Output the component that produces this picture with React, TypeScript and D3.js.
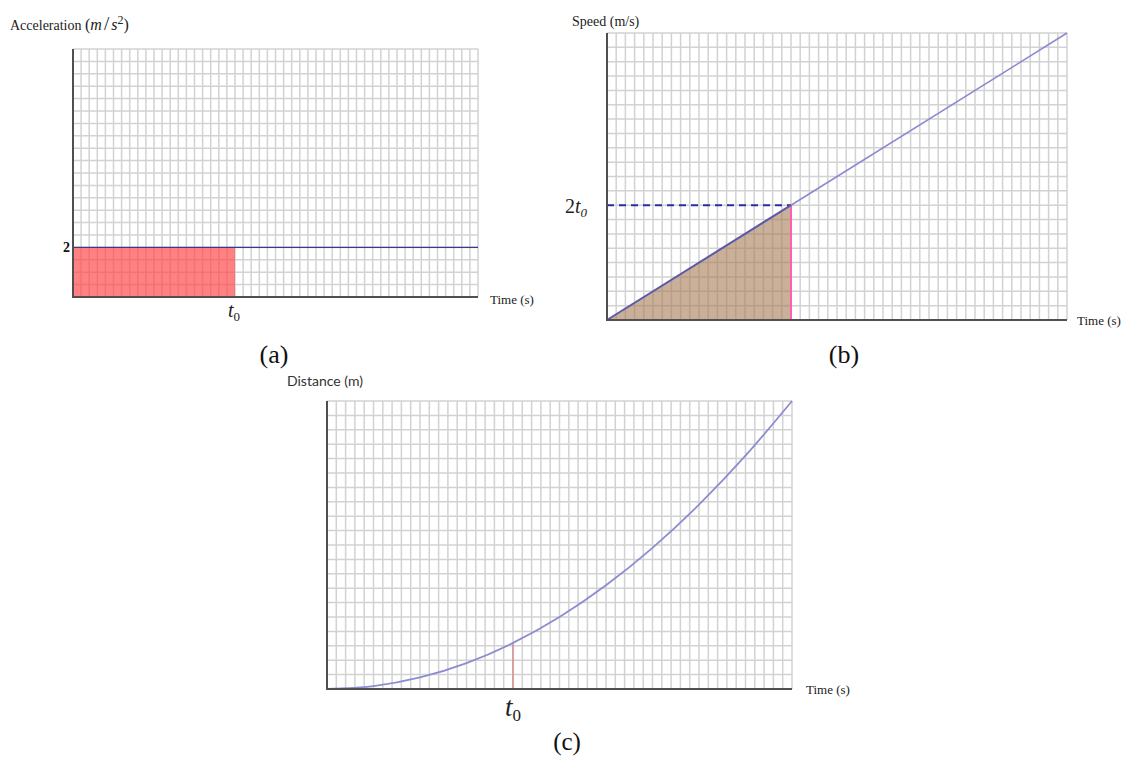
import React from "react";
import * as d3 from "d3";

// grid: 50 time steps, 20 value steps in each panel
const gridCols = 50;
const gridRows = 20;
const t0 = 20;

// (a) acceleration
const accelTimes = [0, 50];
const accelValues = [2, 2];
const accelMax = 10;

// (b) speed
const speedTimes = [0, 20, 50];
const speedValues = [0, 40, 100];
const speedMax = 100;

// (c) distance
const distTimes = [0, 5, 10, 15, 20, 25, 30, 35, 40, 45, 50];
const distValues = [0, 25, 100, 225, 400, 625, 900, 1225, 1600, 2025, 2500];
const distMax = 2500;

const serif = "'Liberation Serif', 'Times New Roman', serif";

type Box = { x0: number; x1: number; top: number; bot: number };

function Grid({ x, y, yMax }: { x: d3.ScaleLinear<number, number>; y: d3.ScaleLinear<number, number>; yMax: number }) {
  const cols = d3.range(0, gridCols + 1);
  const rows = d3.range(0, gridRows + 1).map((i) => (yMax * i) / gridRows);
  const [xa, xb] = x.range();
  const [ya, yb] = y.range();
  return (
    <g>
      {cols.map((c) => (
        <line key={"c" + c} x1={x(c)} x2={x(c)} y1={ya} y2={yb} stroke="#d2d2d2" strokeWidth={1.5} />
      ))}
      {rows.map((r, i) => (
        <line key={"r" + i} x1={xa} x2={xb} y1={y(r)} y2={y(r)} stroke="#d2d2d2" strokeWidth={1.5} />
      ))}
    </g>
  );
}

function Axes({ box }: { box: Box }) {
  return (
    <g stroke="#505050" strokeWidth={2}>
      <line x1={box.x0} x2={box.x0} y1={box.top} y2={box.bot + 1} />
      <line x1={box.x0 - 1} x2={box.x1} y1={box.bot} y2={box.bot} />
    </g>
  );
}

function PanelA() {
  const box: Box = { x0: 73, x1: 478, top: 49, bot: 297 };
  const x = d3.scaleLinear().domain([0, gridCols]).range([box.x0, box.x1]);
  const y = d3.scaleLinear().domain([0, accelMax]).range([box.bot, box.top]);
  const area = d3
    .area<number>()
    .x((d) => x(d))
    .y0(y(0))
    .y1(y(accelValues[0]));
  const line = d3
    .line<number>()
    .x((d) => x(d))
    .y((d, i) => y(accelValues[i]));
  return (
    <g>
      <Grid x={x} y={y} yMax={accelMax} />
      <path d={area([0, t0]) || ""} fill="#ff4646" opacity={0.68} />
      <path d={line(accelTimes) || ""} fill="none" stroke="#3a3a8c" strokeWidth={1.3} />
      <Axes box={box} />
      <text x={10} y={30} fontFamily={serif} fontSize={14} fill="#222">
        Acceleration <tspan fontSize={16}>(</tspan>
        <tspan fontStyle="italic" fontSize={16}>m</tspan>
        <tspan fontSize={19} dx={2}>/</tspan>
        <tspan fontStyle="italic" fontSize={16} dx={2}>s</tspan>
        <tspan fontSize={12} dy={-6}>2</tspan>
        <tspan fontSize={16} dy={6}>)</tspan>
      </text>
      <text x={70} y={y(accelValues[0]) + 5} textAnchor="end" fontFamily={serif} fontWeight="bold" fontSize={14} fill="#111">
        2
      </text>
      <text x={x(t0) - 7} y={317} fontFamily={serif} fontSize={20} fill="#222">
        <tspan fontStyle="italic">t</tspan>
        <tspan fontSize={13} dy={4}>0</tspan>
      </text>
      <text x={490} y={304} fontFamily={serif} fontSize={13} fill="#222">
        Time (s)
      </text>
      <text x={274} y={363} textAnchor="middle" fontFamily={serif} fontSize={26} fill="#111">
        (a)
      </text>
    </g>
  );
}

function PanelB() {
  const box: Box = { x0: 607, x1: 1067, top: 33, bot: 320 };
  const x = d3.scaleLinear().domain([0, gridCols]).range([box.x0, box.x1]);
  const y = d3.scaleLinear().domain([0, speedMax]).range([box.bot, box.top]);
  const idx = speedTimes.indexOf(t0);
  const v0 = speedValues[idx];
  const pts = speedTimes.map((t, i) => [t, speedValues[i]] as [number, number]);
  const area = d3
    .area<[number, number]>()
    .x((d) => x(d[0]))
    .y0(y(0))
    .y1((d) => y(d[1]));
  const line = d3
    .line<[number, number]>()
    .x((d) => x(d[0]))
    .y((d) => y(d[1]));
  return (
    <g>
      <Grid x={x} y={y} yMax={speedMax} />
      <path d={area(pts.slice(0, idx + 1)) || ""} fill="#a67c55" opacity={0.6} />
      <line x1={x(0)} x2={x(t0)} y1={y(v0)} y2={y(v0)} stroke="#2e2ea0" strokeWidth={2} strokeDasharray="7,5" />
      <line x1={x(t0)} x2={x(t0)} y1={y(0)} y2={y(v0)} stroke="#ff5fb0" strokeWidth={2} />
      <path d={line(pts.slice(idx)) || ""} fill="none" stroke="#8a8ad0" strokeWidth={1.6} />
      <path d={line(pts.slice(0, idx + 1)) || ""} fill="none" stroke="#5a5aa8" strokeWidth={2} />
      <Axes box={box} />
      <text x={572} y={26} fontFamily={serif} fontSize={14} fill="#222">
        Speed (m/s)
      </text>
      <text x={565} y={213} fontFamily={serif} fontSize={20} fill="#222">
        2<tspan fontStyle="italic">t</tspan>
        <tspan fontStyle="italic" fontSize={13} dy={4}>0</tspan>
      </text>
      <text x={1077} y={325} fontFamily={serif} fontSize={13} fill="#222">
        Time (s)
      </text>
      <text x={844} y={363} textAnchor="middle" fontFamily={serif} fontSize={26} fill="#111">
        (b)
      </text>
    </g>
  );
}

function PanelC() {
  const box: Box = { x0: 327, x1: 792, top: 401, bot: 689 };
  const x = d3.scaleLinear().domain([0, gridCols]).range([box.x0, box.x1]);
  const y = d3.scaleLinear().domain([0, distMax]).range([box.bot, box.top]);
  const pts = distTimes.map((t, i) => [t, distValues[i]] as [number, number]);
  const line = d3
    .line<[number, number]>()
    .x((d) => x(d[0]))
    .y((d) => y(d[1]))
    .curve(d3.curveMonotoneX);
  const d0 = distValues[distTimes.indexOf(t0)];
  return (
    <g>
      <Grid x={x} y={y} yMax={distMax} />
      <line x1={x(t0)} x2={x(t0)} y1={y(0)} y2={y(d0)} stroke="#d88a8a" strokeWidth={1.5} />
      <path d={line(pts) || ""} fill="none" stroke="#8c8cd0" strokeWidth={1.8} />
      <Axes box={box} />
      <text x={287} y={386} fontFamily="Lato, 'Open Sans', sans-serif" fontSize={14} fill="#333">
        Distance (m)
      </text>
      <text x={x(t0) - 8} y={716} fontFamily={serif} fontSize={27} fill="#222">
        <tspan fontStyle="italic">t</tspan>
        <tspan fontSize={17} dy={5}>0</tspan>
      </text>
      <text x={806} y={694} fontFamily={serif} fontSize={13} fill="#222">
        Time (s)
      </text>
      <text x={567} y={750} textAnchor="middle" fontFamily={serif} fontSize={25} fill="#111">
        (c)
      </text>
    </g>
  );
}

export default function App() {
  return (
    <svg
      width={1131}
      height={758}
      style={{ position: "absolute", left: 0, top: 0, background: "#fff" }}
    >
      <PanelA />
      <PanelB />
      <PanelC />
    </svg>
  );
}
